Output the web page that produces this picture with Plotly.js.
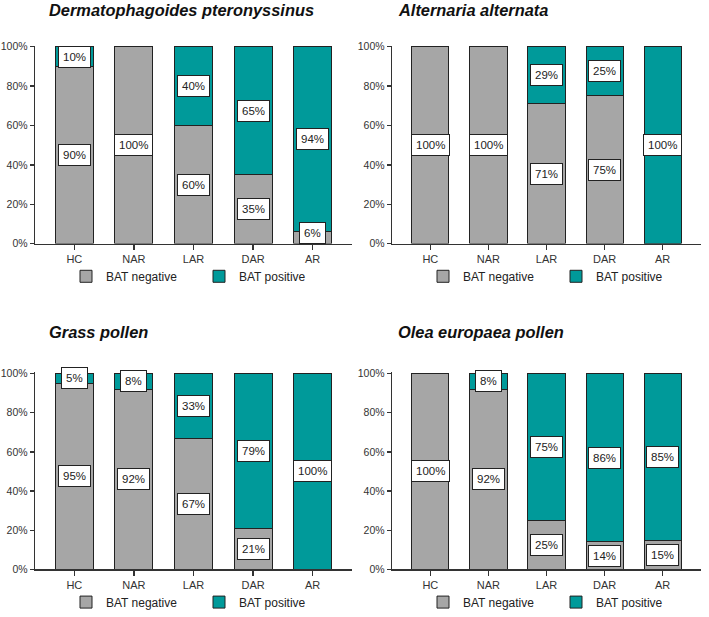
<!DOCTYPE html>
<html>
<head>
<meta charset="utf-8">
<script src="https://cdn.plot.ly/plotly-3.0.1.min.js"></script>
<style>
  html, body { margin: 0; padding: 0; background: #fff; }
  #chart { width: 709px; height: 617px; }
</style>
</head>
<body>
<div id="chart"></div>
<script>
// groups on the x axis
const groups = [ 'HC', 'NAR', 'LAR', 'DAR', 'AR' ];

// % of patients per group
const dpNeg = [ 90, 100, 60, 35, 6 ];
const dpPos = [ 10, 0, 40, 65, 94 ];
const altNeg = [ 100, 100, 71, 75, 0 ];
const altPos = [ 0, 0, 29, 25, 100 ];
const grassNeg = [ 95, 92, 67, 21, 0 ];
const grassPos = [ 5, 8, 33, 79, 100 ];
const oleaNeg = [ 100, 92, 25, 14, 15 ];
const oleaPos = [ 0, 8, 75, 86, 85 ];

const panelTitles = [ 'Dermatophagoides pteronyssinus', 'Alternaria alternata', 'Grass pollen', 'Olea europaea pollen' ];

const GRAY = '#a6a6a6';
const TEAL = '#009a9a';
const EDGE = '#222222';
const FONT = 'Arial, "Liberation Sans", sans-serif';

const panels = [
    { neg: dpNeg, pos: dpPos, xa: 'x', ya: 'y', legend: 'legend' },
    { neg: altNeg, pos: altPos, xa: 'x2', ya: 'y2', legend: 'legend2' },
    { neg: grassNeg, pos: grassPos, xa: 'x3', ya: 'y3', legend: 'legend3' },
    { neg: oleaNeg, pos: oleaPos, xa: 'x4', ya: 'y4', legend: 'legend4' }
];

const data = [];
const annotations = [];

panels.forEach( ( p, i ) => {

    data.push( {
        type: 'bar', name: 'BAT negative', x: groups, y: p.neg,
        xaxis: p.xa, yaxis: p.ya, legend: p.legend, width: 0.64,
        marker: { color: GRAY, line: { color: EDGE, width: 1 } },
        hoverinfo: 'skip'
    } );
    data.push( {
        type: 'bar', name: 'BAT positive', x: groups, y: p.pos,
        xaxis: p.xa, yaxis: p.ya, legend: p.legend, width: 0.64,
        marker: { color: TEAL, line: { color: EDGE, width: 1 } },
        hoverinfo: 'skip'
    } );

    // value labels, centred in each segment
    groups.forEach( ( g, j ) => {
        const segs = [ [ 0, p.neg[ j ] ], [ p.neg[ j ], p.neg[ j ] + p.pos[ j ] ] ];
        segs.forEach( ( s ) => {
            const v = s[ 1 ] - s[ 0 ];
            if ( v <= 0 ) return;
            annotations.push( {
                xref: p.xa, yref: p.ya, x: g, y: Math.max( ( s[ 0 ] + s[ 1 ] ) / 2, 5.5 ),
                text: v + '%', showarrow: false,
                bgcolor: '#ffffff', bordercolor: EDGE, borderwidth: 1, borderpad: 4,
                font: { family: FONT, size: 11.5, color: '#222' }
            } );
        } );
    } );

} );

// panel titles
const titlePos = [ [ 47 / 709, 1 - 10 / 617 ], [ 396 / 709, 1 - 10 / 617 ], [ 47 / 709, 1 - 335 / 617 ], [ 396 / 709, 1 - 335 / 617 ] ];
panelTitles.forEach( ( t, i ) => {
    annotations.push( {
        xref: 'paper', yref: 'paper', x: titlePos[ i ][ 0 ], y: titlePos[ i ][ 1 ],
        xanchor: 'left', yanchor: 'middle', showarrow: false,
        text: '<b><i>' + t + '</i></b>',
        font: { family: FONT, size: 16.4, color: '#111' }
    } );
} );

const xCommon = {
    type: 'category', range: [ -0.66, 4.66 ],
    showline: true, linecolor: '#333', linewidth: 1.3,
    ticks: 'outside', ticklen: 5, tickcolor: '#333', tickwidth: 1.3,
    showgrid: false, zeroline: false, fixedrange: true,
    tickfont: { family: FONT, size: 11, color: '#333' }
};
const yCommon = {
    range: [ 0, 100.6 ], dtick: 20, ticksuffix: '%',
    showline: true, linecolor: '#333', linewidth: 1.3,
    ticks: 'outside', ticklen: 4, tickcolor: '#333', tickwidth: 1.3,
    showgrid: false, zeroline: false, fixedrange: true,
    tickfont: { family: FONT, size: 10.5, color: '#333' }
};

const colL = [ 35 / 709, 352 / 709 ];
const colR = [ 392 / 709, 701 / 709 ];
const rowT = [ 1 - 246 / 617, 1 - 46 / 617 ];
const rowB = [ 1 - 575 / 617, 1 - 376 / 617 ];

const legendCommon = {
    orientation: 'h', xanchor: 'left', yanchor: 'middle', traceorder: 'normal',
    font: { family: FONT, size: 12, color: '#222' },
    entrywidth: 88, entrywidthmode: 'pixels',
    bgcolor: 'rgba(0,0,0,0)'
};

const layout = {
    width: 709, height: 617,
    margin: { l: 0, r: 0, t: 0, b: 0 },
    paper_bgcolor: '#fff', plot_bgcolor: '#fff',
    barmode: 'stack',
    font: { family: FONT },
    xaxis: Object.assign( {}, xCommon, { domain: colL, anchor: 'y' } ),
    yaxis: Object.assign( {}, yCommon, { domain: rowT, anchor: 'x' } ),
    xaxis2: Object.assign( {}, xCommon, { domain: colR, anchor: 'y2' } ),
    yaxis2: Object.assign( {}, yCommon, { domain: rowT, anchor: 'x2' } ),
    xaxis3: Object.assign( {}, xCommon, { domain: colL, anchor: 'y3' } ),
    yaxis3: Object.assign( {}, yCommon, { domain: rowB, anchor: 'x3' } ),
    xaxis4: Object.assign( {}, xCommon, { domain: colR, anchor: 'y4' } ),
    yaxis4: Object.assign( {}, yCommon, { domain: rowB, anchor: 'x4' } ),
    legend: Object.assign( {}, legendCommon, { x: 66 / 709, y: 1 - 279 / 617 } ),
    legend2: Object.assign( {}, legendCommon, { x: 423 / 709, y: 1 - 279 / 617 } ),
    legend3: Object.assign( {}, legendCommon, { x: 66 / 709, y: 1 - 608 / 617 } ),
    legend4: Object.assign( {}, legendCommon, { x: 423 / 709, y: 1 - 608 / 617 } ),
    showlegend: true,
    annotations: annotations
};

Plotly.newPlot( 'chart', data, layout, { displayModeBar: false, staticPlot: true } );
</script>
</body>
</html>
